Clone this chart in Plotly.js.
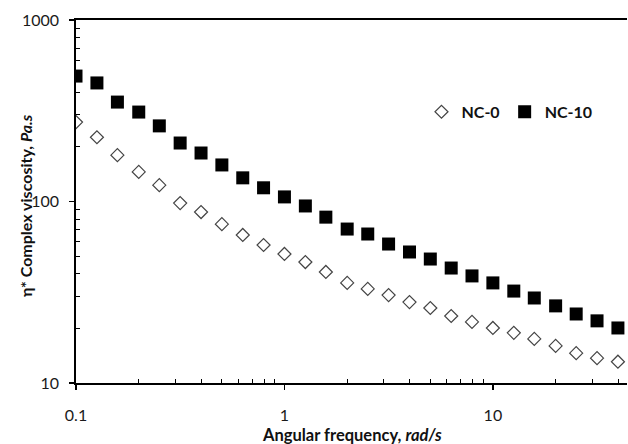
<!DOCTYPE html>
<html>
<head>
<meta charset="utf-8">
<script src="https://cdn.plot.ly/plotly-3.0.1.min.js"></script>
<style>html,body{margin:0;padding:0;background:#fff;}#chart{width:628px;height:444px;}</style>
</head>
<body>
<div id="chart"></div>
<script>
// Angular frequency (rad/s)
const frequency = [0.1, 0.126, 0.158, 0.2, 0.251, 0.316, 0.398, 0.501, 0.631, 0.794,
  1, 1.26, 1.58, 2, 2.51, 3.16, 3.98, 5.01, 6.31, 7.94,
  10, 12.6, 15.8, 20, 25.1, 31.6, 39.8];
// Complex viscosity (Pa.s)
const nc0 = [274, 226, 180, 145.5, 123, 98, 87.5, 75, 65.4, 57.6,
  51.4, 46.4, 40.9, 35.6, 33.0, 30.5, 27.9, 25.9, 23.4, 21.7,
  20.1, 18.9, 17.5, 16.0, 14.6, 13.7, 13.1];
const nc10 = [491, 450, 353, 311, 261, 210, 185, 159, 135, 119,
  106, 94.5, 82, 70.5, 66.2, 58.3, 52.7, 48.2, 43, 38.9,
  35.6, 32.1, 29.4, 26.6, 24.0, 22.0, 20.1];
const seriesNames = ["NC-0", "NC-10"];
const xTickVals = [0.1, 1, 10];
const xTickText = ["0.1", "1", "10"];
const yTickVals = [10, 100, 1000];
const yTickText = ["10", "100", "1000"];
const xMinor = [0.2,0.3,0.4,0.5,0.6,0.7,0.8,0.9,2,3,4,5,6,7,8,9,20,30,40];
const yMinor = [20,30,40,50,60,70,80,90,200,300,400,500,600,700,800,900];
const xTitle = "Angular frequency, <i>rad/s</i>";
const yTitle = "η* Complex viscosity, <i>Pa.s</i>";

const FONT = "Lato, 'Open Sans', sans-serif";

const traces = [
  {x: frequency, y: nc0, name: seriesNames[0], type: "scatter", mode: "markers",
   marker: {symbol: "diamond-open", size: 10, color: "#444", line: {width: 1.2, color: "#444"}}},
  {x: frequency, y: nc10, name: seriesNames[1], type: "scatter", mode: "markers",
   marker: {symbol: "square", size: 13, color: "#000"}}
];

const layout = {
  width: 628, height: 444,
  margin: {l: 76, r: 1, t: 20, b: 61},
  paper_bgcolor: "#fff", plot_bgcolor: "#fff",
  font: {family: FONT, size: 16, color: "#1a1a1a"},
  showlegend: true,
  legend: {orientation: "h", x: 0.627, y: 0.747, xanchor: "left", yanchor: "middle",
    font: {family: FONT, size: 16, color: "#111", weight: "bold"},
    itemwidth: 30, bgcolor: "rgba(0,0,0,0)", tracegroupgap: 0},
  xaxis: {
    type: "log", range: [-1, Math.log10(44)],
    tickmode: "array", tickvals: xTickVals, ticktext: xTickText,
    ticks: "outside", ticklen: 5, tickwidth: 1.5, tickcolor: "#000",
    ticklabelstandoff: 12,
    minor: {tickmode: "array", tickvals: xMinor, ticks: "inside", ticklen: 4, tickwidth: 1, tickcolor: "#000", showgrid: false},
    showline: true, linecolor: "#000", linewidth: 1.8, mirror: true,
    showgrid: false, zeroline: false,
    tickfont: {family: FONT, size: 16, color: "#1a1a1a"}
  },
  yaxis: {
    type: "log", range: [1, 3],
    tickmode: "array", tickvals: yTickVals, ticktext: yTickText,
    ticks: "outside", ticklen: 5, tickwidth: 1.5, tickcolor: "#000",
    ticklabelstandoff: 7,
    minor: {tickmode: "array", tickvals: yMinor, ticks: "inside", ticklen: 4, tickwidth: 1, tickcolor: "#000", showgrid: false},
    showline: true, linecolor: "#000", linewidth: 1.8,
    showgrid: false, zeroline: false,
    tickfont: {family: FONT, size: 16, color: "#1a1a1a"}
  },
  annotations: [
    {text: xTitle, xref: "paper", yref: "paper", x: 0.5, y: -0.143,
     xanchor: "center", yanchor: "middle", showarrow: false,
     font: {family: FONT, size: 16.5, color: "#111", weight: "bold"}},
    {text: yTitle, xref: "paper", yref: "paper", x: -0.0926, y: 0.49,
     xanchor: "center", yanchor: "middle", textangle: -90, showarrow: false,
     font: {family: FONT, size: 16, color: "#111", weight: "bold"}}
  ]
};

Plotly.newPlot("chart", traces, layout, {displayModeBar: false, staticPlot: true});
</script>
</body>
</html>
